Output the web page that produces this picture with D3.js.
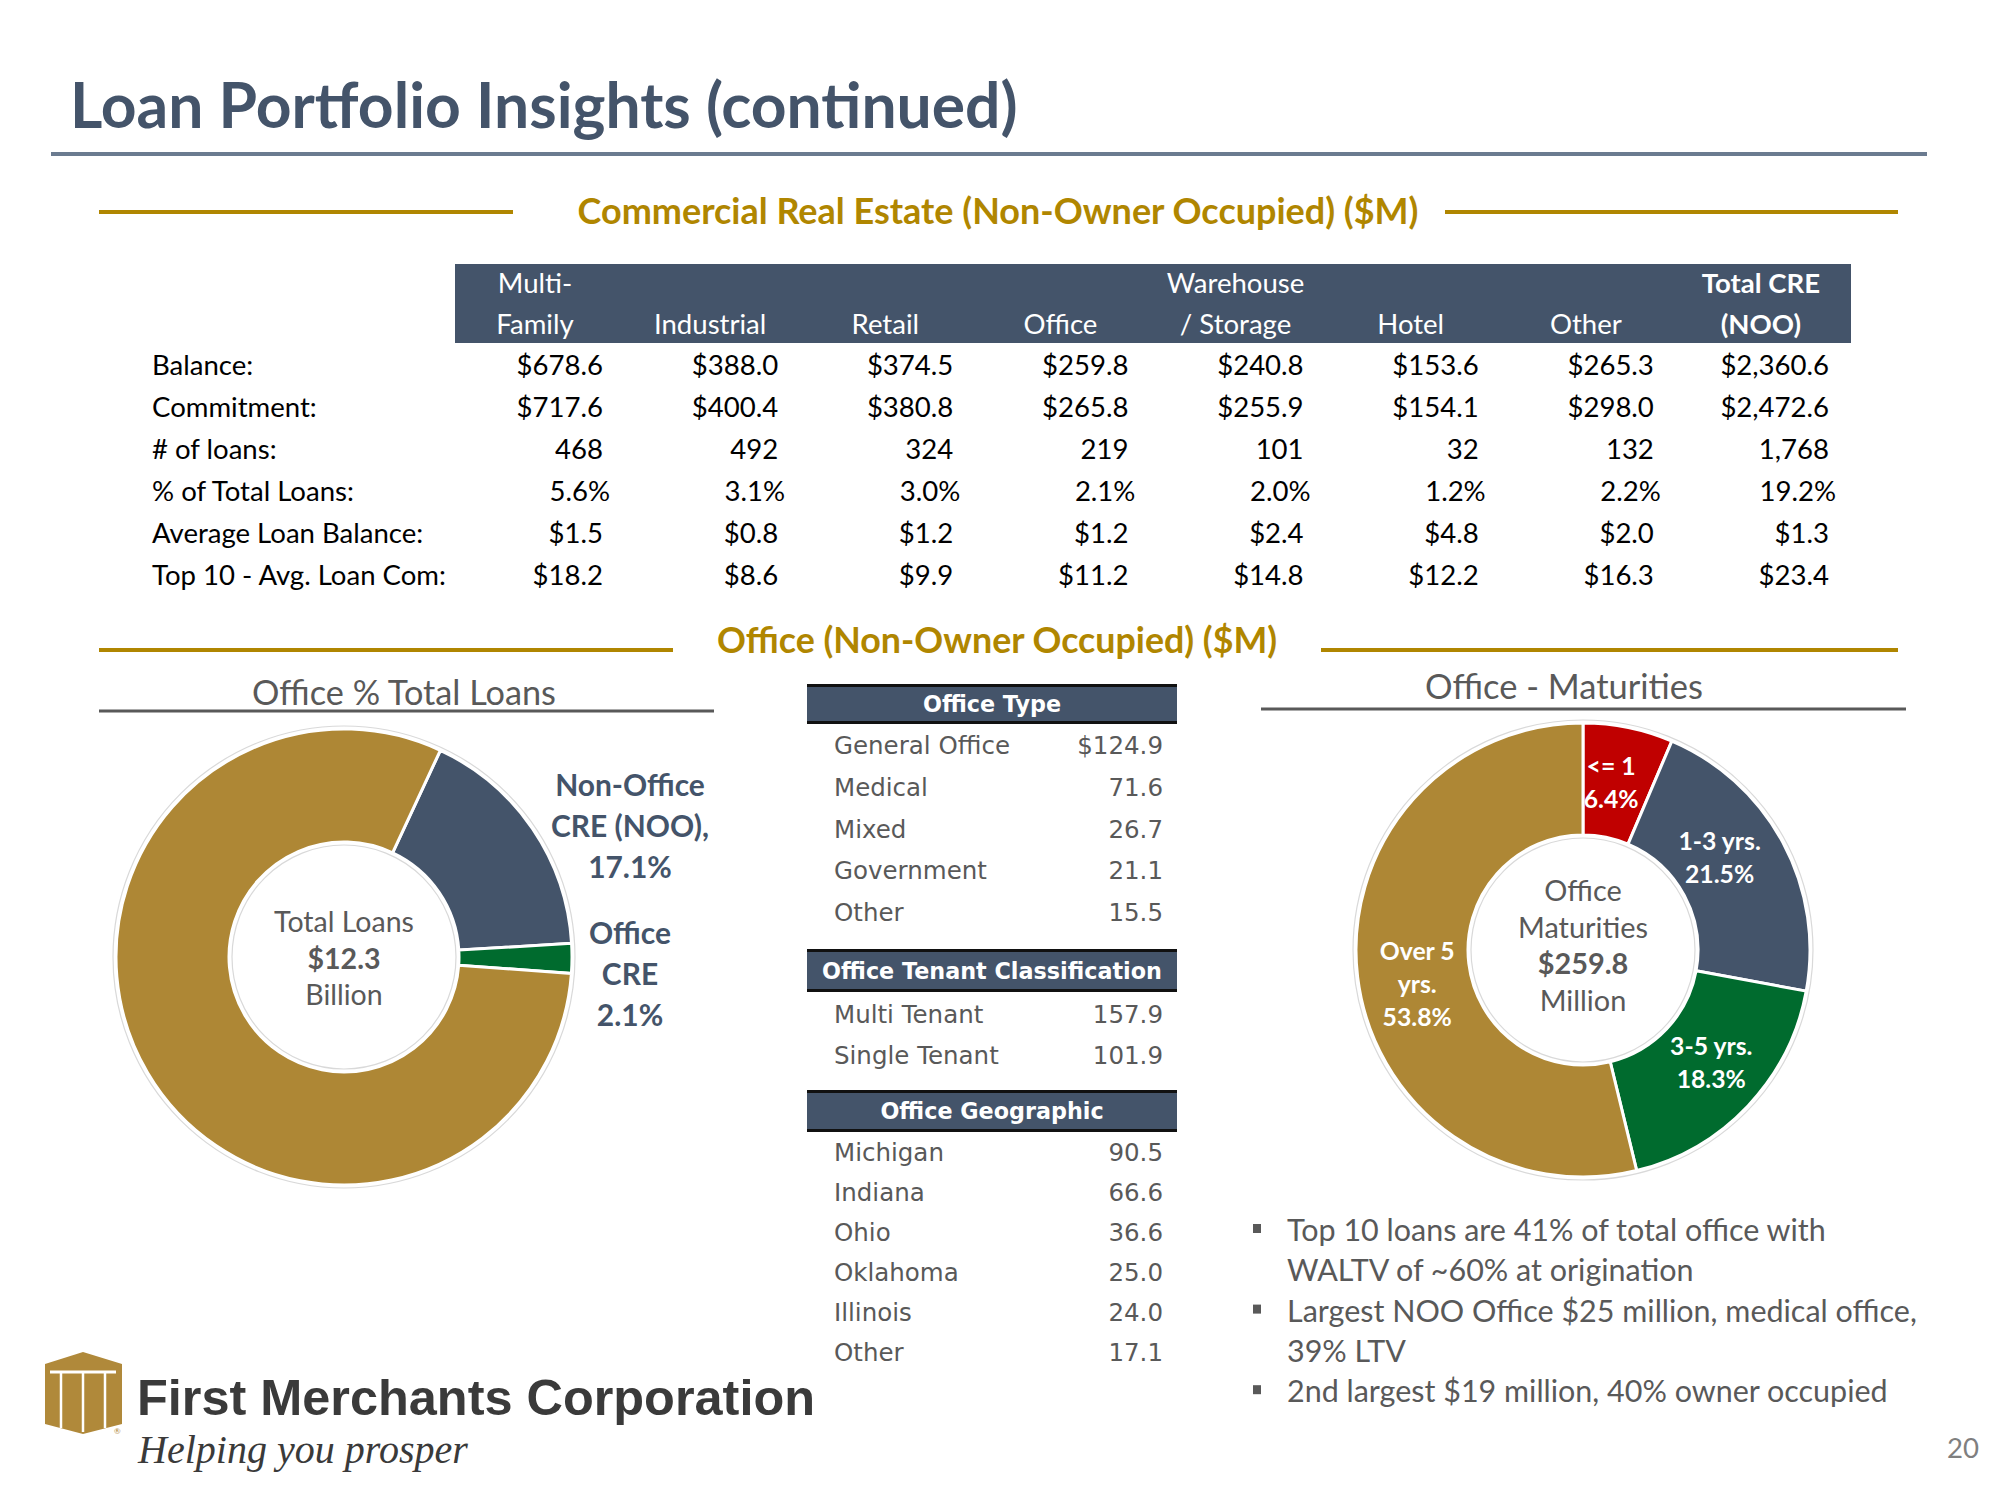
<!DOCTYPE html>
<html><head><meta charset="utf-8">
<script src="https://cdn.jsdelivr.net/npm/d3@7"></script>
<style>
html,body{margin:0;padding:0;background:#fff;}
svg{display:block;}
</style></head>
<body>
<svg id="chart" width="2000" height="1500"></svg>
<script>
// ---------------- DATA ----------------
const pageTitle = "Loan Portfolio Insights (continued)";
const creSectionTitle = "Commercial Real Estate (Non-Owner Occupied) ($M)";
const officeSectionTitle = "Office (Non-Owner Occupied) ($M)";

const creHeaderTop = ["Multi-", "", "", "", "Warehouse", "", "", "Total CRE"];
const creHeaderBottom = ["Family", "Industrial", "Retail", "Office", "/ Storage", "Hotel", "Other", "(NOO)"];
const creRowLabels = ["Balance:", "Commitment:", "# of loans:", "% of Total Loans:", "Average Loan Balance:", "Top 10 - Avg. Loan Com:"];
const balance = [678.6, 388.0, 374.5, 259.8, 240.8, 153.6, 265.3, 2360.6];
const commitment = [717.6, 400.4, 380.8, 265.8, 255.9, 154.1, 298.0, 2472.6];
const numLoans = [468, 492, 324, 219, 101, 32, 132, 1768];
const pctOfTotalLoans = [5.6, 3.1, 3.0, 2.1, 2.0, 1.2, 2.2, 19.2];
const avgLoanBalance = [1.5, 0.8, 1.2, 1.2, 2.4, 4.8, 2.0, 1.3];
const top10AvgLoanCom = [18.2, 8.6, 9.9, 11.2, 14.8, 12.2, 16.3, 23.4];

const totalLoansTitle = "Office % Total Loans";
const totalLoansCats = ["Non-Office CRE (NOO)", "Office CRE", "Other Loans"];
const totalLoansPct = [17.1, 2.1, 80.8];
const totalLoansCenter = ["Total Loans", "$12.3", "Billion"];

const officeTypeLabels = ["General Office", "Medical", "Mixed", "Government", "Other"];
const officeTypeValues = [124.9, 71.6, 26.7, 21.1, 15.5];
const tenantLabels = ["Multi Tenant", "Single Tenant"];
const tenantValues = [157.9, 101.9];
const geoLabels = ["Michigan", "Indiana", "Ohio", "Oklahoma", "Illinois", "Other"];
const geoValues = [90.5, 66.6, 36.6, 25.0, 24.0, 17.1];

const maturityTitle = "Office - Maturities";
const maturityCats = ["<= 1", "1-3 yrs.", "3-5 yrs.", "Over 5 yrs."];
const maturityPct = [6.4, 21.5, 18.3, 53.8];
const maturityCenter = ["Office", "Maturities", "$259.8", "Million"];

const bullets = [
  ["Top 10 loans are 41% of total office with", "WALTV of ~60% at origination"],
  ["Largest NOO Office $25 million, medical office,", "39% LTV"],
  ["2nd largest $19 million, 40% owner occupied"]
];

// ---------------- STYLE ----------------
const SANS = "Lato, 'Open Sans', sans-serif";
const VERD = "'DejaVu Sans', Verdana, sans-serif";
const NAVY = "#44546A", GOLD = "#AE8735", GREEN = "#006B2E", RED = "#C00000";
const SECT = "#B08600", GRAY = "#595959";

const svg = d3.select("#chart");
const cvs = document.createElement("canvas").getContext("2d");
function fitSize(text, weight, family, target, style) {
  cvs.font = `${style||"normal"} ${weight} 100px ${family}`;
  return 100 * target / cvs.measureText(text).width;
}

// ---------------- TITLE ----------------
svg.append("text").attr("x", 70).attr("y", 128)
  .attr("font-family", SANS).attr("font-weight", 700)
  .attr("font-size", fitSize(pageTitle, 700, SANS, 948))
  .attr("fill", NAVY).text(pageTitle);
svg.append("rect").attr("x", 51).attr("y", 152).attr("width", 1876).attr("height", 4).attr("fill", "#6B7B90");

function sectionHeader(title, cx, baseline, leftX1, leftX2, rightX1, rightX2, lineY, target) {
  svg.append("text").attr("x", cx).attr("y", baseline).attr("text-anchor", "middle")
    .attr("font-family", SANS).attr("font-weight", 700)
    .attr("font-size", fitSize(title, 700, SANS, target))
    .attr("fill", SECT).text(title);
  svg.append("rect").attr("x", leftX1).attr("y", lineY - 2).attr("width", leftX2 - leftX1).attr("height", 4).attr("fill", SECT);
  svg.append("rect").attr("x", rightX1).attr("y", lineY - 2).attr("width", rightX2 - rightX1).attr("height", 4).attr("fill", SECT);
}
sectionHeader(creSectionTitle, 998, 224, 99, 513, 1445, 1898, 212, 842);
sectionHeader(officeSectionTitle, 997, 653, 99, 673, 1321, 1898, 650, 561);

// ---------------- CRE TABLE ----------------
const rowFont = fitSize("Top 10 - Avg. Loan Com:", 400, SANS, 295);
const colX = d3.scalePoint().domain(d3.range(creHeaderBottom.length)).range([603, 1829]);
const rowY = d3.scalePoint().domain(creRowLabels).range([375, 585]);
svg.append("rect").attr("x", 455).attr("y", 264).attr("width", 1396).attr("height", 79).attr("fill", NAVY);
const hdr = svg.append("g").attr("font-family", SANS).attr("font-size", rowFont).attr("fill", "#fff").attr("text-anchor", "middle");
creHeaderBottom.forEach((h, i) => {
  const bold = i === creHeaderBottom.length - 1 ? 700 : 400;
  hdr.append("text").attr("x", colX(i) - 68).attr("y", 293).attr("font-weight", bold).text(creHeaderTop[i]);
  hdr.append("text").attr("x", colX(i) - 68).attr("y", 334).attr("font-weight", bold).text(h);
});
const fmtDollar = v => "$" + d3.format(",.1f")(v);
const rows = [
  {vals: balance, fmt: fmtDollar, dx: 0},
  {vals: commitment, fmt: fmtDollar, dx: 0},
  {vals: numLoans, fmt: d3.format(","), dx: 0},
  {vals: pctOfTotalLoans, fmt: v => d3.format(".1f")(v) + "%", dx: 7},
  {vals: avgLoanBalance, fmt: fmtDollar, dx: 0},
  {vals: top10AvgLoanCom, fmt: fmtDollar, dx: 0}
];
const body = svg.append("g").attr("font-family", SANS).attr("font-size", rowFont).attr("fill", "#000");
creRowLabels.forEach((lab, r) => {
  body.append("text").attr("x", 152).attr("y", rowY(lab)).text(lab);
  rows[r].vals.forEach((v, i) => {
    body.append("text").attr("x", colX(i) + rows[r].dx).attr("y", rowY(lab)).attr("text-anchor", "end").text(rows[r].fmt(v));
  });
});

// ---------------- DONUT HELPERS ----------------
function donutTitle(title, cx, baseline, x1, x2, lineY, target) {
  svg.append("text").attr("x", cx).attr("y", baseline).attr("text-anchor", "middle")
    .attr("font-family", SANS).attr("font-size", fitSize(title, 400, SANS, target))
    .attr("fill", GRAY).text(title);
  svg.append("rect").attr("x", x1).attr("y", lineY - 1.5).attr("width", x2 - x1).attr("height", 3).attr("fill", GRAY);
}

// ---------------- LEFT DONUT ----------------
donutTitle(totalLoansTitle, 404, 705, 99, 714, 711, 305);
const c1 = {x: 344, y: 957}, r1o = 228, r1i = 115;
const pie1 = d3.pie().sort(null).value(d => d).startAngle(25 * Math.PI / 180).endAngle(25 * Math.PI / 180 + 2 * Math.PI);
const arc1 = d3.arc().innerRadius(r1i).outerRadius(r1o);
const colors1 = d3.scaleOrdinal().domain(totalLoansCats).range([NAVY, GREEN, GOLD]);
const g1 = svg.append("g").attr("transform", `translate(${c1.x},${c1.y})`);
g1.append("circle").attr("r", r1o + 3).attr("fill", "none").attr("stroke", "#d9d9d9").attr("stroke-width", 1.2);
g1.selectAll("path").data(pie1(totalLoansPct)).join("path")
  .attr("d", arc1).attr("fill", (d, i) => colors1(totalLoansCats[i]))
  .attr("stroke", "#fff").attr("stroke-width", 3);
g1.append("circle").attr("r", r1i - 3).attr("fill", "none").attr("stroke", "#d9d9d9").attr("stroke-width", 1.2);
const cf1 = fitSize("Total Loans", 400, SANS, 140);
totalLoansCenter.forEach((t, i) => {
  g1.append("text").attr("x", 0).attr("y", -25 + i * 36.5).attr("text-anchor", "middle")
    .attr("font-family", SANS).attr("font-size", cf1).attr("font-weight", i === 1 ? 700 : 400)
    .attr("fill", GRAY).text(t);
});
const lf = fitSize("CRE (NOO),", 700, SANS, 158);
const lbl1 = [
  {lines: ["Non-Office", "CRE (NOO),", d3.format(".1f")(totalLoansPct[0]) + "%"], y: -161},
  {lines: ["Office", "CRE", d3.format(".1f")(totalLoansPct[1]) + "%"], y: -13}
];
lbl1.forEach(L => {
  L.lines.forEach((t, i) => {
    g1.append("text").attr("x", 286).attr("y", L.y + i * 41).attr("text-anchor", "middle")
      .attr("font-family", SANS).attr("font-weight", 700).attr("font-size", lf)
      .attr("fill", NAVY).text(t);
  });
});

// ---------------- MIDDLE TABLES ----------------
const hdrFont = fitSize("Office Tenant Classification", 700, VERD, 340);
const cellFont = fitSize("General Office", 400, VERD, 176);
function miniTable(title, labels, values, y0, y1, firstRowY, step, firstDollar) {
  const x0 = 807, x1 = 1177;
  svg.append("rect").attr("x", x0).attr("y", y0).attr("width", x1 - x0).attr("height", y1 - y0).attr("fill", NAVY);
  svg.append("rect").attr("x", x0).attr("y", y0 - 1).attr("width", x1 - x0).attr("height", 3).attr("fill", "#111");
  svg.append("rect").attr("x", x0).attr("y", y1 - 2).attr("width", x1 - x0).attr("height", 3).attr("fill", "#111");
  svg.append("text").attr("x", (x0 + x1) / 2).attr("y", (y0 + y1) / 2 + hdrFont * 0.36).attr("text-anchor", "middle")
    .attr("font-family", VERD).attr("font-weight", 700).attr("font-size", hdrFont).attr("fill", "#fff").text(title);
  const y = d3.scalePoint().domain(labels).range([firstRowY, firstRowY + step * (labels.length - 1)]);
  labels.forEach((l, i) => {
    svg.append("text").attr("x", 834).attr("y", y(l)).attr("font-family", VERD).attr("font-size", cellFont)
      .attr("fill", GRAY).text(l);
    svg.append("text").attr("x", 1163).attr("y", y(l)).attr("text-anchor", "end").attr("font-family", VERD)
      .attr("font-size", cellFont).attr("fill", GRAY)
      .text((firstDollar && i === 0 ? "$" : "") + d3.format(".1f")(values[i]));
  });
}
miniTable("Office Type", officeTypeLabels, officeTypeValues, 685, 723, 754, 41.8, true);
miniTable("Office Tenant Classification", tenantLabels, tenantValues, 950, 991, 1023, 41, false);
miniTable("Office Geographic", geoLabels, geoValues, 1091, 1131, 1161, 40, false);

// ---------------- RIGHT DONUT ----------------
donutTitle(maturityTitle, 1564, 699, 1261, 1906, 709, 278);
const c2 = {x: 1583, y: 950}, r2o = 227, r2i = 115;
const pie2 = d3.pie().sort(null).value(d => d);
const arc2 = d3.arc().innerRadius(r2i).outerRadius(r2o);
const colors2 = d3.scaleOrdinal().domain(maturityCats).range([RED, NAVY, GREEN, GOLD]);
const g2 = svg.append("g").attr("transform", `translate(${c2.x},${c2.y})`);
g2.append("circle").attr("r", r2o + 3).attr("fill", "none").attr("stroke", "#d9d9d9").attr("stroke-width", 1.2);
const arcs2 = pie2(maturityPct);
g2.selectAll("path").data(arcs2).join("path")
  .attr("d", arc2).attr("fill", (d, i) => colors2(maturityCats[i]))
  .attr("stroke", "#fff").attr("stroke-width", 3);
g2.append("circle").attr("r", r2i - 3).attr("fill", "none").attr("stroke", "#d9d9d9").attr("stroke-width", 1.2);
const cf2 = fitSize("Maturities", 400, SANS, 130);
maturityCenter.forEach((t, i) => {
  g2.append("text").attr("x", 0).attr("y", -49 + i * 36.5).attr("text-anchor", "middle")
    .attr("font-family", SANS).attr("font-size", cf2).attr("font-weight", i === 2 ? 700 : 400)
    .attr("fill", GRAY).text(t);
});
const mf = fitSize("3-5 yrs.", 700, SANS, 83);
const matLines = [
  ["<= 1"], ["1-3 yrs."], ["3-5 yrs."], ["Over 5", "yrs."]
];
const matNudge = [[-6, 0], [-14, -11], [4, -5], [4, 14]];
arcs2.forEach((a, i) => {
  const [cx, cy] = arc2.centroid(a);
  const lines = matLines[i].concat([d3.format(".1f")(maturityPct[i]) + "%"]);
  const lh = 33;
  const top = cy - (lines.length - 1) * lh / 2 + mf * 0.35;
  lines.forEach((t, j) => {
    g2.append("text").attr("x", cx + matNudge[i][0]).attr("y", top + j * lh + matNudge[i][1])
      .attr("text-anchor", "middle").attr("font-family", SANS).attr("font-weight", 700)
      .attr("font-size", mf).attr("fill", "#fff").text(t);
  });
});

// ---------------- BULLETS ----------------
const bf = fitSize("Largest NOO Office $25 million, medical office,", 400, SANS, 630);
let by = 1241;
const bStep = 40.3;
bullets.forEach(b => {
  svg.append("rect").attr("x", 1253).attr("y", by - 17).attr("width", 8).attr("height", 9).attr("fill", GRAY);
  b.forEach(line => {
    svg.append("text").attr("x", 1287).attr("y", by).attr("font-family", SANS).attr("font-size", bf)
      .attr("fill", GRAY).text(line);
    by += bStep;
  });
});

// page number
svg.append("text").attr("x", 1979).attr("y", 1458).attr("text-anchor", "end").attr("font-family", SANS)
  .attr("font-size", fitSize("20", 400, SANS, 32)).attr("fill", "#7F7F7F").text("20");

// ---------------- LOGO ----------------
const logo = svg.append("g");
logo.append("path").attr("d", "M45,1364 L83,1352 L122,1364 L122,1424 L83,1434 L45,1424 Z").attr("fill", "#B0893A");
logo.append("path").attr("d", "M50,1372 L116,1372").attr("stroke", "#fff").attr("stroke-width", 3);
[61, 83, 105].forEach(x => {
  logo.append("line").attr("x1", x).attr("x2", x).attr("y1", 1373).attr("y2", x === 83 ? 1432 : 1428)
    .attr("stroke", "#fff").attr("stroke-width", 2.5);
});
logo.append("text").attr("x", 114).attr("y", 1434).attr("font-family", SANS).attr("font-size", 8).attr("fill", "#B0893A").text("®");
logo.append("text").attr("x", 137).attr("y", 1415).attr("font-family", "'Liberation Sans', Arial, sans-serif")
  .attr("font-weight", 700).attr("font-size", 50).attr("fill", "#3A3A3A")
  .attr("textLength", 678).attr("lengthAdjust", "spacingAndGlyphs").text("First Merchants Corporation");
logo.append("text").attr("x", 138).attr("y", 1463).attr("font-family", "'Liberation Serif', serif")
  .attr("font-style", "italic")
  .attr("font-size", fitSize("Helping you prosper", 400, "'Liberation Serif', serif", 330, "italic"))
  .attr("fill", "#3A3A3A").text("Helping you prosper");
</script>
</body></html>
